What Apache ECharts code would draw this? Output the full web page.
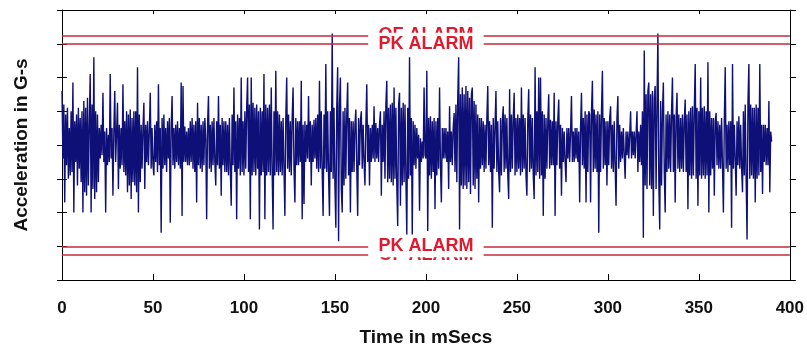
<!DOCTYPE html>
<html>
<head>
<meta charset="utf-8">
<script src="https://cdn.jsdelivr.net/npm/echarts@6/dist/echarts.min.js"></script>
<style>
  html, body { margin: 0; padding: 0; background: #ffffff; }
  #chart { width: 807px; height: 352px; }
</style>
</head>
<body>
<div id="chart"></div>
<script>
// Sampling interval of the acceleration record, in milliseconds
const sampleMs = 0.5;

// Acceleration samples in G (one row = 10 ms)
const accelG = [
  1.6,-0.4,1.2,-1.7,0.9,-0.6,1.1,-1.0,0.5,-0.9,1.0,-0.8,1.85,-2.0,0.7,-0.5,0.9,-1.2,1.1,-0.7,
  0.8,-1.1,1.0,-2.0,1.3,-1.4,1.1,-1.5,1.4,-1.2,0.6,2.1,-2.0,1.2,-1.3,2.6,-1.6,1.0,-1.4,0.9,
  -1.1,0.5,-0.4,0.6,-0.3,1.55,-0.5,0.4,-2.0,0.5,-0.6,0.3,-0.5,2.1,-0.4,0.5,-1.5,0.4,1.6,-0.5,
  -0.5,1.25,-1.3,0.6,-0.7,0.5,-0.6,1.8,-0.8,0.7,-0.9,1.0,-1.4,0.9,-1.2,1.05,-1.6,0.8,-1.1,1.0,
  -1.2,1.0,-1.4,2.3,-2.0,0.9,-1.1,0.6,-0.7,0.5,1.25,-1.3,0.6,-0.5,0.7,-0.6,0.4,1.55,-0.7,0.5,
  -0.6,-0.9,0.6,-0.5,0.7,-0.8,1.8,-0.6,0.5,-2.6,0.8,-0.7,0.9,-0.6,0.5,-0.8,0.7,-0.4,0.8,-2.3,
  0.5,1.45,-0.6,0.5,-0.7,0.6,-0.5,0.7,-0.6,0.5,-0.7,1.85,-2.1,1.75,-0.5,0.55,-0.5,0.4,-0.6,0.5,
  -0.6,0.7,-0.5,0.8,-0.7,0.6,-0.8,0.7,-1.7,1.25,-0.6,0.8,-0.7,0.6,-0.8,0.7,-0.6,0.8,0.2,-2.2,
  0.6,1.45,-0.7,0.6,-0.8,0.7,-0.6,0.8,-0.5,-1.2,0.7,-0.6,1.45,-0.7,0.6,-1.5,0.8,-0.6,0.7,-0.8,
  0.7,-0.8,0.6,-0.9,0.8,-0.7,-1.8,0.9,-0.6,1.7,-0.8,0.7,-2.2,0.9,-0.7,0.8,-0.9,2.0,-0.8,0.7,
  -0.9,1.0,-0.7,1.1,2.0,-0.8,1.2,-2.2,2.0,-0.9,1.25,-0.8,1.1,-0.9,1.2,-0.7,1.0,-2.5,1.1,-0.9,
  1.0,-0.8,2.1,-2.2,1.2,-0.9,1.1,-0.8,1.2,-0.9,1.7,-0.8,-2.5,1.0,-0.9,2.2,-0.8,1.0,-0.9,0.9,
  -0.8,0.7,-0.9,0.8,-0.7,-2.1,0.8,2.0,-0.7,0.9,-0.8,0.7,-0.9,0.8,1.7,-0.7,-1.7,0.8,-0.6,0.7,
  -0.6,0.7,-0.5,1.9,-2.2,0.6,-1.75,0.7,-0.5,0.6,-0.4,1.45,-0.5,0.7,-1.2,0.6,-0.5,0.75,-0.4,0.8,
  -0.7,0.9,-0.8,1.9,-0.7,1.0,-0.8,-2.1,0.9,-0.7,2.4,-0.8,1.0,-0.9,-2.1,1.0,-0.8,3.3,-1.0,1.1,
  -1.2,-2.45,1.1,2.3,-2.85,1.15,2.0,-1.3,-2.0,1.0,-1.2,1.1,-1.0,0.9,1.85,-0.9,0.8,-2.0,0.7,-0.8,
  0.7,-0.8,0.6,1.05,-0.7,-2.1,0.8,-0.6,0.7,1.0,-0.7,0.6,-0.5,-1.2,0.6,1.8,-0.5,0.6,-1.2,0.5,
  -0.5,0.6,-0.4,1.15,-0.5,0.65,-0.4,0.5,-0.5,0.6,1.0,-1.5,0.6,-0.5,1.0,-1.0,1.2,1.9,-1.1,1.1,
  -1.0,1.2,-1.1,1.25,-1.2,1.7,-1.0,1.1,-1.2,-2.4,1.2,1.55,-1.8,1.1,-1.2,1.25,-1.1,1.2,-1.0,-2.65,
  1.1,-1.0,2.6,-0.9,0.8,-2.65,0.7,-0.6,0.6,-0.7,0.5,-0.4,0.3,-1.95,0.2,-0.5,0.1,-0.4,1.7,-0.3,
  -0.4,2.2,-2.55,0.8,-0.9,0.85,-1.0,0.7,-0.8,0.8,-1.9,0.7,-0.9,0.8,-0.7,1.7,-0.6,-1.7,0.5,-0.4,
  0.5,-0.4,0.5,-0.5,0.4,-1.3,1.15,-0.5,0.4,-0.6,0.5,0.95,-0.8,1.2,-1.1,1.4,2.6,-2.5,1.5,-1.2,
  1.7,-1.3,1.5,-1.2,1.75,-1.3,1.6,-1.1,1.4,-1.45,1.5,1.7,-1.2,1.3,-1.3,1.2,-1.0,0.9,-1.7,0.8,
  -0.7,0.8,-0.6,0.7,-0.8,0.6,-0.7,0.8,1.75,-0.6,0.7,-0.8,0.6,-2.45,0.8,-0.7,0.6,1.6,-0.8,0.7,
  -0.8,-1.4,0.8,-0.9,0.7,1.15,-0.8,0.9,-0.7,0.8,-0.9,-1.6,1.65,-0.8,0.9,-0.7,0.8,1.55,-0.9,0.8,
  -0.8,0.9,-0.7,0.8,-0.9,1.7,-0.8,0.9,-0.7,0.8,-0.9,-1.5,0.8,1.65,-0.8,0.9,-0.7,0.8,-0.9,-1.6,
  2.3,-0.9,1.0,-0.8,2.0,-1.0,2.0,-0.9,1.0,-2.1,0.9,-1.0,0.8,-0.7,0.7,1.5,-0.7,0.75,-0.6,0.7,
  -0.6,1.55,-2.1,0.7,-0.6,0.75,1.35,-0.7,0.6,-1.5,0.5,-0.5,0.4,-0.5,-1.1,0.5,-0.4,0.5,-0.5,0.4,
  1.45,-0.5,0.4,-0.5,0.5,-0.4,0.5,-0.5,0.4,-1.7,0.5,1.55,-0.6,0.8,-0.7,1.0,-1.7,0.9,-0.8,1.0,
  0.9,-1.7,1.0,1.9,-0.8,1.05,-0.7,0.9,-0.8,1.0,-2.6,0.9,-0.8,1.0,2.2,-0.7,0.8,-0.6,0.7,-1.2,
  0.7,-0.6,0.8,1.15,-0.7,0.6,-0.8,0.7,-0.6,-1.8,0.8,1.45,-0.7,0.6,-0.5,0.4,-0.4,0.5,-0.3,-1.0,
  0.4,-0.3,0.4,-0.4,0.3,1.0,-0.4,0.4,-0.3,0.4,-0.4,0.3,1.0,-0.8,0.4,-0.5,0.6,-0.6,1.0,-2.75,
  2.8,-1.2,1.5,-1.3,1.6,1.85,-1.2,1.5,-1.3,1.6,-2.1,1.4,1.75,-1.3,1.2,3.3,-1.1,-2.5,1.3,-1.2,
  1.0,1.85,-0.8,-2.0,0.9,-0.8,1.0,-0.7,0.9,-0.8,1.0,2.0,-0.8,0.9,-1.7,0.8,1.55,-0.7,0.9,-0.8,
  0.8,-0.7,0.9,-0.8,0.7,1.35,-0.8,0.9,-1.9,1.0,-0.9,1.1,-1.0,1.15,-0.9,1.0,2.4,-1.0,1.1,-1.8,
  1.0,-0.9,2.0,-1.0,1.1,-0.9,1.15,-1.0,1.0,-0.9,2.45,-2.0,1.0,-0.9,0.8,-0.7,0.8,-1.5,0.7,0.95,
  -0.6,0.7,-0.7,0.6,-0.7,0.8,-0.6,-2.0,0.7,2.3,-0.7,0.6,-0.8,0.7,-0.6,0.7,-2.45,2.4,-0.7,0.6,
  0.6,-1.5,0.7,-0.6,0.85,-0.7,0.6,-0.7,-1.4,1.0,-0.9,1.2,-1.0,-2.8,1.25,2.4,-1.0,1.2,-0.9,1.1,
  -1.0,1.1,-1.7,1.2,-1.0,1.1,-0.9,2.4,-0.8,0.6,-1.45,0.6,-0.5,0.6,-0.6,0.5,-0.6,1.3,-1.4,0.4,
  0.1
];

// Axis ranges and tick spacing
const timeTicks = [0, 50, 100, 150, 200, 250, 300, 350, 400];
const accelRange = [-4, 4];
const accelStep = 1;

// Alarm bands (drawn symmetrically above and below zero)
const alarmNames = ['OF ALARM', 'PK ALARM'];
const alarmLevels = [3.25, 3.0];

const fontFamily = "'Liberation Sans', Arial, Helvetica, sans-serif";
const inkColor = '#111111';
const waveColor = '#0f0f78';
const alarmLineColor = '#c42a3c';
const alarmTextColor = '#e01a2e';

const points = accelG.map((v, i) => [i * sampleMs, v]);

const alarmMarks = [];
alarmNames.forEach((name, k) => {
  [1, -1].forEach(sign => {
    alarmMarks.push({ name: name, yAxis: sign * alarmLevels[k] });
  });
});

const tMin = timeTicks[0];
const tMax = timeTicks[timeTicks.length - 1];
const tStep = timeTicks[1] - timeTicks[0];

const baseY = {
  type: 'value', min: accelRange[0], max: accelRange[1], interval: accelStep,
  axisLabel: { show: false }, splitLine: { show: false }
};

const chart = echarts.init(document.getElementById('chart'), null, { renderer: 'canvas' });
chart.setOption({
  animation: false,
  backgroundColor: '#ffffff',
  grid: { left: 62, right: 11, top: 10, bottom: 69, containLabel: false },
  xAxis: [
    {
      type: 'value', min: tMin, max: tMax, interval: tStep, position: 'bottom',
      axisLine: { show: true, onZero: false, lineStyle: { color: '#000', width: 1 } },
      axisTick: { show: true, inside: true, length: 6, lineStyle: { color: '#000' } },
      axisLabel: { margin: 20, fontSize: 17, fontWeight: 'bold', color: inkColor, fontFamily: fontFamily },
      splitLine: { show: false },
      name: 'Time in mSecs', nameLocation: 'middle', nameGap: 48,
      nameTextStyle: { fontSize: 19, fontWeight: 'bold', color: inkColor, fontFamily: fontFamily }
    },
    {
      type: 'value', min: tMin, max: tMax, interval: tStep, position: 'top',
      axisLine: { show: true, onZero: false, lineStyle: { color: '#000', width: 1 } },
      axisTick: { show: true, inside: true, length: 4, lineStyle: { color: '#000' } },
      axisLabel: { show: false }, splitLine: { show: false }
    }
  ],
  yAxis: [
    Object.assign({}, baseY, {
      position: 'left',
      axisLine: { show: true, onZero: false, lineStyle: { color: '#000', width: 1 } },
      axisTick: { show: true, inside: true, length: 5, lineStyle: { color: '#000' } },
      name: 'Acceleration in G-s', nameLocation: 'middle', nameGap: 31,
      nameTextStyle: { fontSize: 19, fontWeight: 'bold', color: inkColor, fontFamily: fontFamily }
    }),
    Object.assign({}, baseY, {
      position: 'left',
      axisLine: { show: false, onZero: false },
      axisTick: { show: true, inside: false, length: 5, lineStyle: { color: '#000' } }
    }),
    Object.assign({}, baseY, {
      position: 'right',
      axisLine: { show: true, onZero: false, lineStyle: { color: '#000', width: 1 } },
      axisTick: { show: true, inside: false, length: 6, lineStyle: { color: '#000' } }
    })
  ],
  series: [
    {
      type: 'line',
      xAxisIndex: 0,
      yAxisIndex: 0,
      data: points,
      showSymbol: false,
      symbol: 'none',
      sampling: null,
      lineStyle: { color: waveColor, width: 1.4 },
      markLine: {
        silent: true,
        symbol: ['none', 'none'],
        lineStyle: { color: alarmLineColor, width: 1.5, type: 'solid' },
        label: {
          show: true,
          position: 'middle',
          distance: 0,
          verticalAlign: 'middle',
          formatter: '{b}',
          color: alarmTextColor,
          fontSize: 18,
          fontWeight: 'bold',
          fontFamily: fontFamily,
          backgroundColor: '#ffffff',
          padding: [2, 10]
        },
        data: alarmMarks
      }
    }
  ]
});
</script>
</body>
</html>
